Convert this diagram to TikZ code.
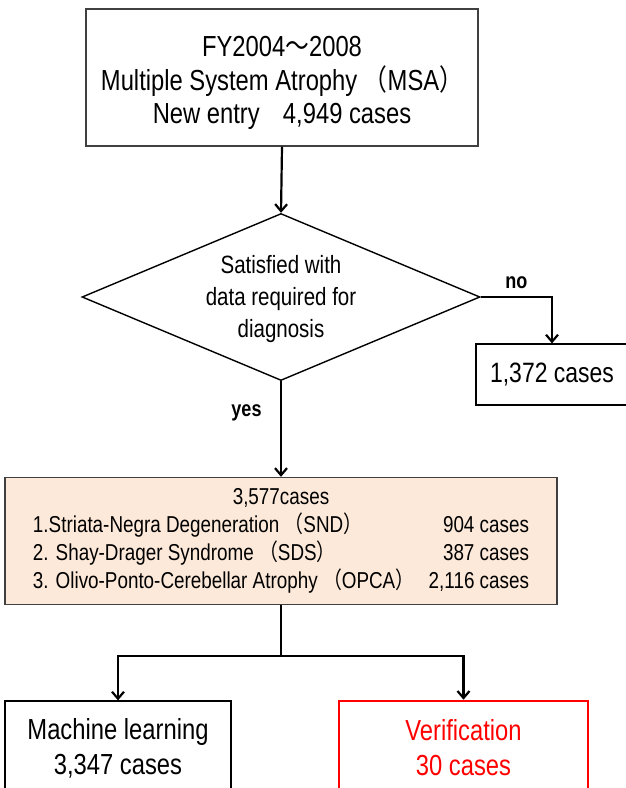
\documentclass[tikz,border=0pt]{standalone}
\usepackage{fontspec}
\setmainfont{Liberation Sans}[FakeStretch=0.82]
\newfontfamily\cjk{Noto Sans CJK JP}[FakeStretch=0.82]
\usepackage{tikz}
\usetikzlibrary{arrows.meta, positioning, shapes.geometric}
\usepackage{xcolor}
\definecolor{peach}{HTML}{FDE9D9}
\definecolor{edgegray}{HTML}{404040}

\newcommand{\lpar}{{\cjk （}}
\newcommand{\rpar}{{\cjk ）}}

\begin{document}
\begin{tikzpicture}[x=1pt, y=-1pt,
    box/.style={draw=edgegray, line width=1.4pt, align=center, inner sep=0pt},
    flow/.style={line width=2.2pt, -{Straight Barb[length=7pt, width=12pt]}},
    tag/.style={font=\bfseries\fontsize{22}{26}\selectfont}]
    \useasboundingbox (0,0) rectangle (626,788);

    % entry
    \node[box, minimum width=392pt, minimum height=137pt,
        font=\fontsize{29}{33.5}\selectfont] (entry) at (282,77.5)
        {\rule{0pt}{32pt}FY2004{\cjk ～}2008\\Multiple System Atrophy \lpar MSA\rpar\\New entry\hspace{0.8em}4,949 cases};

    % check
    \node[draw, diamond, line width=1.4pt, aspect=2.38, minimum width=398pt, minimum height=167pt,
        inner sep=0pt, align=center, font=\fontsize{25}{32}\selectfont] (check) at (281,297)
        {\rule{0pt}{22pt}Satisfied with\\data required for\\diagnosis};
    \node[box, draw=black, line width=1.2pt, minimum width=152pt, minimum height=61pt,
        font=\fontsize{28}{33}\selectfont] (excl) at (552,374.5) {1,372 cases};

    % valid cases
    \node[box, fill=peach, minimum width=552pt, minimum height=127pt,
        font=\fontsize{23}{28}\selectfont] (valid) at (281,541)
        {\begin{tabular*}{496pt}{@{}l@{\extracolsep{\fill}}r@{}}
            \multicolumn{2}{c}{3,577cases}\\
            1.Striata-Negra Degeneration \lpar SND\rpar & 904 cases\\
            2. Shay-Drager Syndrome \lpar SDS\rpar & 387 cases\\
            3. Olivo-Ponto-Cerebellar Atrophy \lpar OPCA\rpar & 2,116 cases
        \end{tabular*}};

    % split
    \node[box, draw=black, line width=1.2pt, minimum width=226pt, minimum height=94pt,
        font=\fontsize{29}{35}\selectfont] (train) at (118,748) {Machine learning\\3,347 cases};
    \node[box, draw=red, line width=2.6pt, text=red, minimum width=249pt, minimum height=94pt,
        font=\fontsize{29}{35}\selectfont] (test) at (463.5,748) {Verification\\30 cases};

    % arrows
    \draw[flow] (entry.south) -- (check.north);
    \draw[flow] (check.east) -| node[tag, pos=0.25, above=4pt] (no) {no} (excl.north);
    \draw[flow] (check.south) -- node[tag, pos=0.33, left=15pt] (yes) {yes} (valid.north);
    \draw[line width=2.2pt] (valid.south) -- ++(0,51) coordinate (fork);
    \draw[flow] (fork) -| (train.north);
    \draw[flow] (fork) -| (test.north);
\end{tikzpicture}
\end{document}
